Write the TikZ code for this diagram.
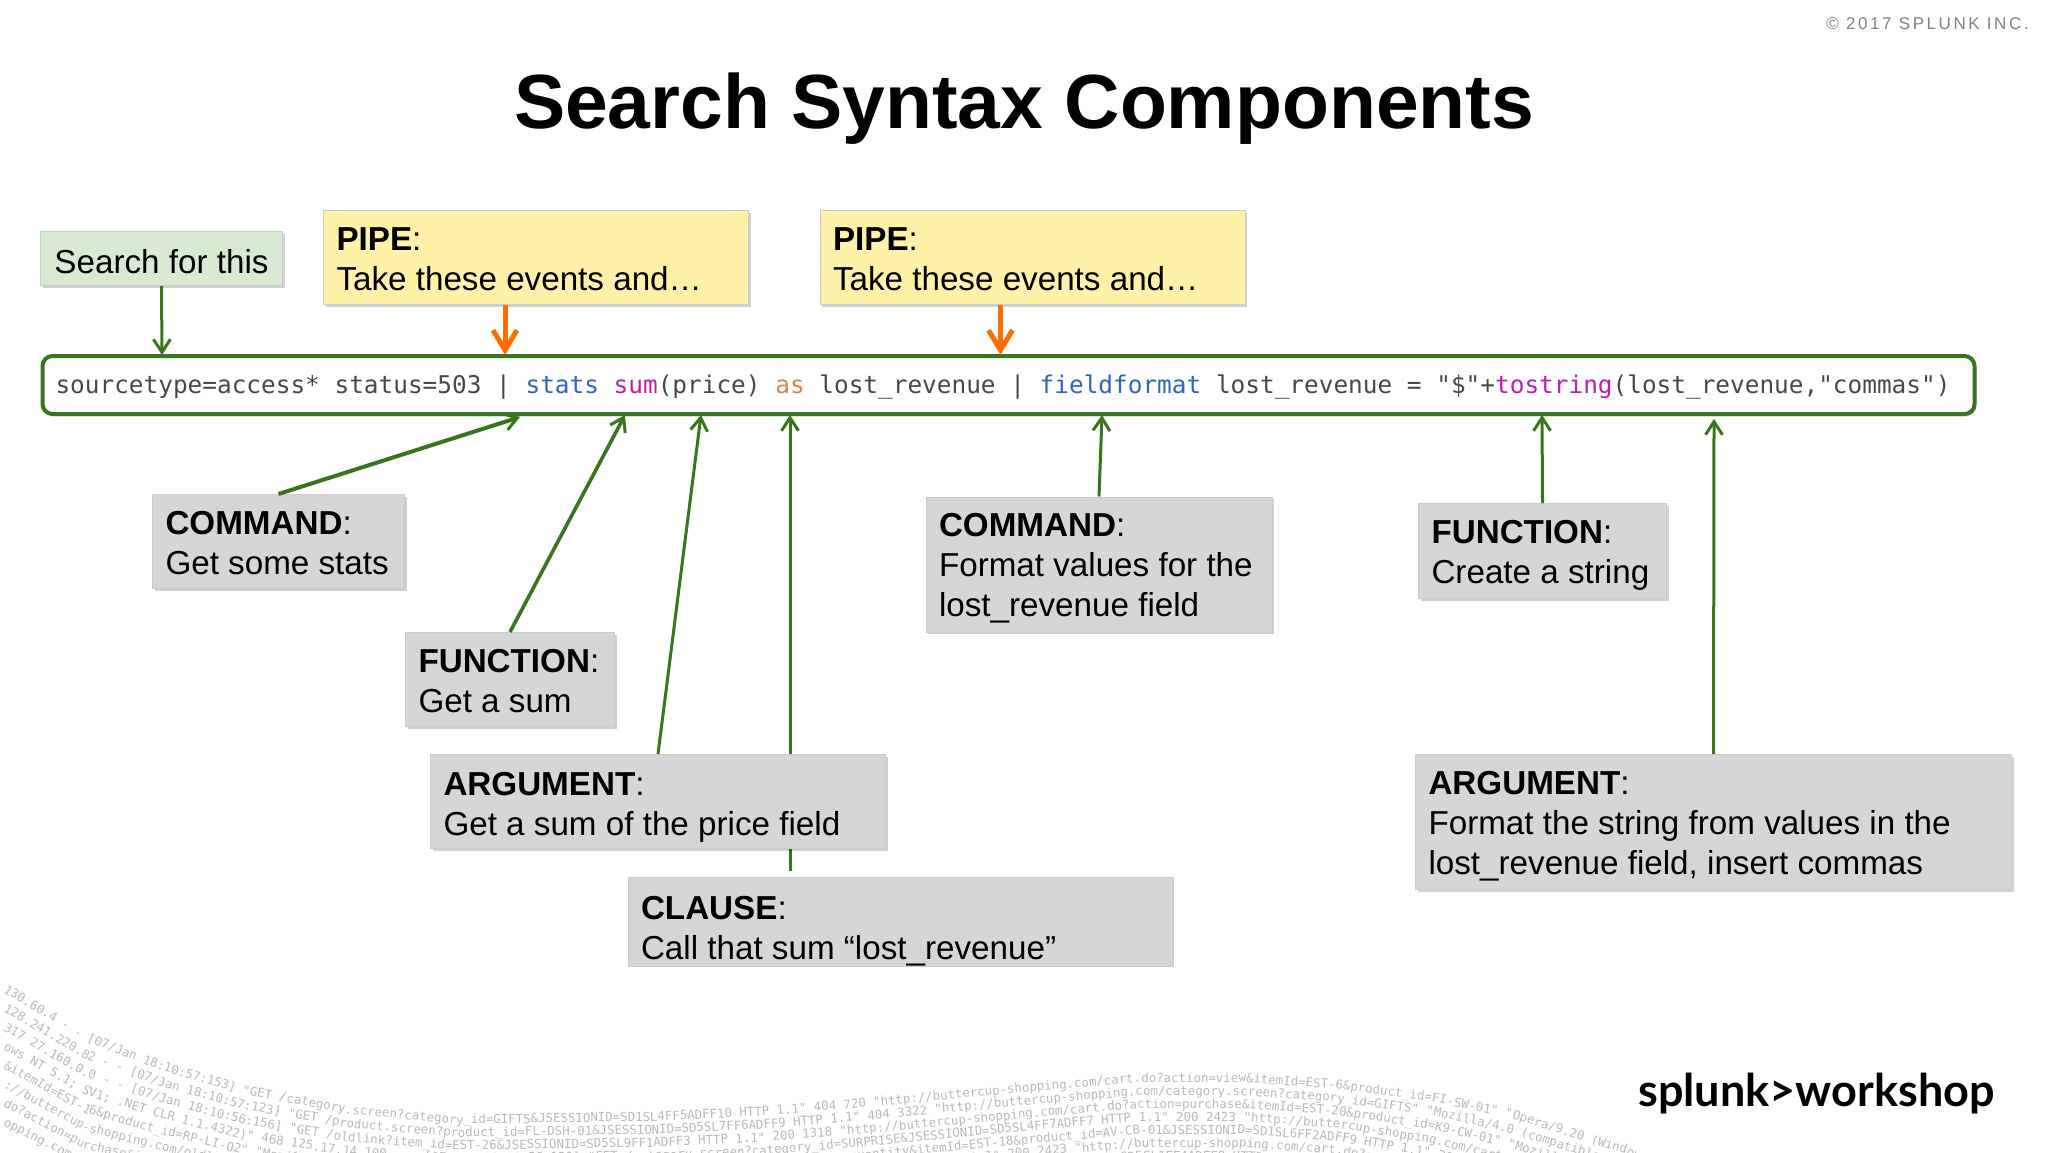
\documentclass[tikz,border=0pt]{standalone}
\usepackage{fontspec}
\usepackage{xcolor}
\setmainfont{Liberation Sans}
\setmonofont{DejaVu Sans Mono}
\newfontfamily\copyfont[LetterSpace=15]{Liberation Sans}
\newfontfamily\logofont{Lato}
\usetikzlibrary{arrows.meta, positioning, calc, backgrounds, shadows, decorations.text}
\definecolor{cGreen}{RGB}{56,118,29}
\definecolor{cOrange}{RGB}{255,109,1}
\definecolor{cNote}{RGB}{214,213,215}
\definecolor{cPipe}{RGB}{255,241,168}
\definecolor{cFind}{RGB}{217,234,211}
\definecolor{cCode}{RGB}{72,72,72}
\definecolor{cBlue}{RGB}{48,100,196}
\definecolor{cMagenta}{RGB}{190,30,170}
\definecolor{cAs}{RGB}{222,130,70}
\definecolor{cLog}{RGB}{185,185,185}
\newcommand{\logfont}{\ttfamily\fontsize{6.2}{6.2}\selectfont}
\edef\logrowA{\detokenize{130.60.4 - - [07/Jan 18:10:57:153] "GET /category.screen?category_id=GIFTS&JSESSIONID=SD1SL4FF5ADFF10 HTTP 1.1" 404 720 "http://buttercup-shopping.com/cart.do?action=view&itemId=EST-6&product_id=FI-SW-01" "Opera/9.20 (Windows NT 6.0; U; en)"}}
\edef\logrowB{\detokenize{128.241.220.82 - - [07/Jan 18:10:57:123] "GET /product.screen?product_id=FL-DSH-01&JSESSIONID=SD5SL7FF6ADFF9 HTTP 1.1" 404 3322 "http://buttercup-shopping.com/category.screen?category_id=GIFTS" "Mozilla/4.0 (compatible; MSIE 6.0)"}}
\edef\logrowC{\detokenize{317 27.160.0.0 - - [07/Jan 18:10:56:156] "GET /oldlink?item_id=EST-26&JSESSIONID=SD5SL9FF1ADFF3 HTTP 1.1" 200 1318 "http://buttercup-shopping.com/cart.do?action=purchase&itemId=EST-20&product_id=K9-CW-01" "Mozilla/4.0 (compatible)"}}
\edef\logrowD{\detokenize{ows NT 5.1; SV1; .NET CLR 1.1.4322)" 468 125.17.14.100 - - [07/Jan 18:10:56:150] "GET /category.screen?category_id=SURPRISE&JSESSIONID=SD5SL4FF7ADFF7 HTTP 1.1" 200 2423 "http://buttercup-shopping.com/cart.do?action=changequantity&itemId=EST-18&product_id=AV-CB-01"}}
\edef\logrowE{\detokenize{&itemId=EST-16&product_id=RP-LI-02" "Mozilla/5.0" 92.46.53.223 - - [07/Jan 18:10:56:123] "GET /cart.do?action=changequantity&itemId=EST-18&product_id=AV-CB-01&JSESSIONID=SD1SL6FF2ADFF9 HTTP 1.1" 200 3065 "http://buttercup-shopping.com/cart.do?action=view"}}
\edef\logrowF{\detokenize{://buttercup-shopping.com/oldlink?item_id=EST-26" 200 1318 "GET /category.screen?category_id=FLOWERS&JSESSIONID=SD0SL6FF1ADFF6 HTTP 1.1" 200 2423 "http://buttercup-shopping.com/cart.do?action=remove&itemId=EST-15&product_id=RP-SN-01" "Mozilla"}}
\edef\logrowG{\detokenize{do?action=purchase&itemId=EST-18&product_id=AV-CB-01" 404 125.17.14.100 - - [07/Jan 18:10:55:108] "GET /category.screen?category_id=SURPRISE&JSESSIONID=SD5SL1FF4ADFF8 HTTP 1.1" 200 1318 "http://buttercup-shopping.com/product.screen"}}
\edef\logrowH{\detokenize{opping.com/cart.do?action=view&itemId=EST-6" 200 2423 317.27.160.0 - - [07/Jan 18:10:55:107] "GET /cart.do?action=remove&itemId=EST-15&JSESSIONID=SD7SL9FF5ADFF2 HTTP 1.1" 200 720 "http://buttercup-shopping.com/oldlink?item_id=EST-26"}}
% one row of the log text, #1 = row number
\newcommand{\logrow}[2]{\path[logline, yshift=-2pt, decoration={text/.expanded={|\noexpand\logfont\noexpand\color{cLog}|#2}}] (3,{988+#1*19}) -- (85,{1037+#1*18}) -- (160,{1066+#1*16}) -- (242,{1090+#1*15}) -- (350,{1110+#1*14}) -- (457,{1120+#1*13}) -- (653,{1117+#1*13}) -- (760,{1112+#1*13}) -- (869,{1103+#1*13}) -- (1024,{1088+#1*13}) -- (1142,{1078+#1*13}) -- (1240,{1078+#1*13}) -- (1337,{1085+#1*13}) -- (1430,{1097+#1*14}) -- (1514,{1115+#1*15}) -- (1625,{1150+#1*15}) -- (1720,{1200+#1*15});}
% pushes the text of a note down by half of #1
\newcommand{\nudge}[1]{\rule{0pt}{\dimexpr12.1pt+#1\relax}}
\tikzset{
	notebox/.style ={rectangle, anchor=north west, align=flush left, inner xsep=6.5pt, inner ysep=0pt, fill=cNote, draw=black!20, line width=0.5pt, font=\fontsize{16.6}{20}\selectfont},
	softshadow/.style={drop shadow={shadow xshift=1pt, shadow yshift=-1.2pt, opacity=0.18, fill=black}},
	querybar/.style={rectangle, anchor=north west, rounded corners=5pt, draw=cGreen, line width=2pt, fill=white, align=flush left, inner xsep=6.5pt, inner ysep=0pt, text=cCode, font=\ttfamily\fontsize{12.2}{14}\selectfont, minimum height=29pt, text width=953pt},
	greenarrow/.style={draw=cGreen, line width=1.5pt, -{Straight Barb[length=6.5pt, width=8.5pt, line width=1.5pt]}},
	pipearrow/.style={draw=cOrange, line width=2.5pt, -{Straight Barb[length=10pt, width=12pt, line width=2.5pt]}},
	logline/.style={decorate, decoration={text along path}},
}
\begin{document}
\begin{tikzpicture}[x=0.5pt, y=-0.5pt]
	\useasboundingbox (0,0) rectangle (2048,1152);
	\begin{scope}
		\clip (0,0) rectangle (2048,1152);
		\logrow{0}{\logrowA}
		\logrow{1}{\logrowB}
		\logrow{2}{\logrowC}
		\logrow{3}{\logrowD}
		\logrow{4}{\logrowE}
		\logrow{5}{\logrowF}
		\logrow{6}{\logrowG}
		\logrow{7}{\logrowH}
	\end{scope}

	\node[anchor=base, font=\bfseries\fontsize{38.4}{44}\selectfont] (title) at (1024,128) {Search Syntax Components};
	\node[anchor=base east, inner sep=0pt, text=black!50, font=\copyfont\fontsize{8.5}{10}\selectfont] (copyright) at (2029,29) {© 2017 SPLUNK INC.};
	\node[anchor=base west, inner sep=0pt, font=\logofont\bfseries\fontsize{22.5}{28}\selectfont] (logo) at (1638,1106) {splunk>workshop};

	\node[querybar, softshadow] (query) at (40.5,354) {\rule{0pt}{11pt}sourcetype=access* status=503 | \textcolor{cBlue}{stats} \textcolor{cMagenta}{sum}(price) \textcolor{cAs}{as} lost\_revenue | \textcolor{cBlue}{fieldformat} lost\_revenue = "\$"+\textcolor{cMagenta}{tostring}(lost\_revenue,"commas")};

	% upper notes
	\node[notebox, softshadow, fill=cFind, minimum width=121pt, minimum height=27pt] (search) at (40,231) {\nudge{2.6pt}Search for this};
	\node[notebox, softshadow, fill=cPipe, text width=199.5pt, minimum height=47pt] (pipeA) at (323,210) {\nudge{0.6pt}\textbf{PIPE}:\\Take these events and…};
	\node[notebox, softshadow, fill=cPipe, text width=199.5pt, minimum height=47pt] (pipeB) at (819.5,210) {\nudge{0.6pt}\textbf{PIPE}:\\Take these events and…};

	% lower notes
	\node[notebox, softshadow, text width=113pt, minimum height=47pt] (commandA) at (152,494) {\nudge{0.6pt}\textbf{COMMAND}:\\Get some stats};
	\node[notebox, softshadow, text width=91.5pt, minimum height=47pt] (functionA) at (405,632) {\nudge{1.3pt}\textbf{FUNCTION}:\\Get a sum};
	\node[notebox, softshadow, text width=214.5pt, minimum height=47pt] (argumentA) at (430,754) {\nudge{5.2pt}\textbf{ARGUMENT}:\\Get a sum of the price field};
	\node[notebox, text width=259.5pt, minimum height=42.5pt] (clause) at (627.5,877) {\nudge{9pt}\textbf{CLAUSE}:\\Call that sum “lost\_revenue”};
	\node[notebox, softshadow, text width=160pt, minimum height=67.5pt] (commandB) at (925.5,496.5) {\nudge{3.3pt}\textbf{COMMAND}:\\Format values for the\\lost\_revenue field};
	\node[notebox, softshadow, text width=111pt, minimum height=47.5pt] (functionB) at (1418,503) {\nudge{4pt}\textbf{FUNCTION}:\\Create a string};
	\node[notebox, softshadow, text width=285pt, minimum height=67.5pt] (argumentB) at (1415,754) {\nudge{3.3pt}\textbf{ARGUMENT}:\\Format the string from values in the\\lost\_revenue field, insert commas};

	% points on the search bar
	\coordinate (tipSearch) at (162,355);
	\coordinate (tipPipeA) at (505,355);
	\coordinate (tipPipeB) at (1000.5,355);
	\coordinate (tipCommandA) at (520,417);
	\coordinate (tipFunctionA) at (625,415);
	\coordinate (tipArgumentA) at (701,415);
	\coordinate (tipClause) at (790,415);
	\coordinate (tipCommandB) at (1102,415);
	\coordinate (tipFunctionB) at (1542,415);
	\coordinate (tipArgumentB) at (1714,419);

	\draw[greenarrow] (search.south) -- (tipSearch);
	\draw[pipearrow] (tipPipeA |- pipeA.south) -- (tipPipeA);
	\draw[pipearrow] (tipPipeB |- pipeB.south) -- (tipPipeB);
	\draw[greenarrow, line width=2pt] (commandA.north) -- (tipCommandA);
	\draw[greenarrow, line width=1.8pt] (functionA.north) -- (tipFunctionA);
	\draw[greenarrow] (argumentA.north) -- (tipArgumentA);
	\begin{scope}[on background layer]
		\draw[greenarrow, shorten <=3pt] (tipClause |- clause.north) -- (tipClause);
	\end{scope}
	\draw[greenarrow] (commandB.north) -- (tipCommandB);
	\draw[greenarrow] (functionB.north) -- (tipFunctionB);
	\draw[greenarrow] (argumentB.north) -- (tipArgumentB);
\end{tikzpicture}
\end{document}
